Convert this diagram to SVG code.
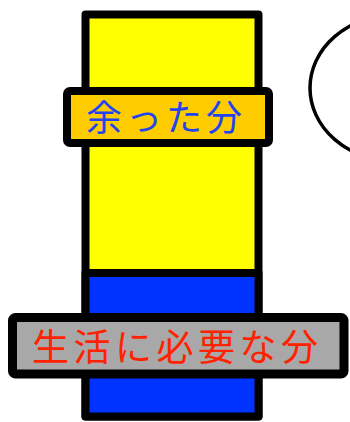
<svg xmlns="http://www.w3.org/2000/svg" width="350" height="422" viewBox="0 0 350 422">
<style>
.outline{stroke:#000;stroke-width:8;stroke-linejoin:round}
.lbl{font-family:"Noto Sans CJK JP","Noto Sans CJK SC",sans-serif;font-size:36px;dominant-baseline:central}
</style>
<rect width="350" height="422" fill="#fff"/>
<g id="bubble">
<ellipse cx="395" cy="88" rx="85" ry="73" fill="#fff" stroke="#000" stroke-width="3.5"/>
</g>
<g id="column">
<rect x="85.5" y="14.5" width="173" height="402" fill="#FFFF00" class="outline"/>
<rect x="85.5" y="273" width="173" height="143.5" fill="#0033FF" class="outline"/>
</g>
<g id="surplus">
<rect x="67" y="91" width="202" height="52" rx="3" fill="#FFCC00" class="outline"/>
<text x="86" y="115" class="lbl" fill="#2244EE" letter-spacing="4">余った分</text>
</g>
<g id="necessary">
<rect x="12.5" y="317.5" width="331.5" height="56.5" rx="3" fill="#A8A8A8" stroke="#000" stroke-width="9" stroke-linejoin="round"/>
<text x="32" y="345" class="lbl" fill="#FF2200" style="font-size:37px" letter-spacing="4.5">生活に必要な分</text>
</g>
</svg>
